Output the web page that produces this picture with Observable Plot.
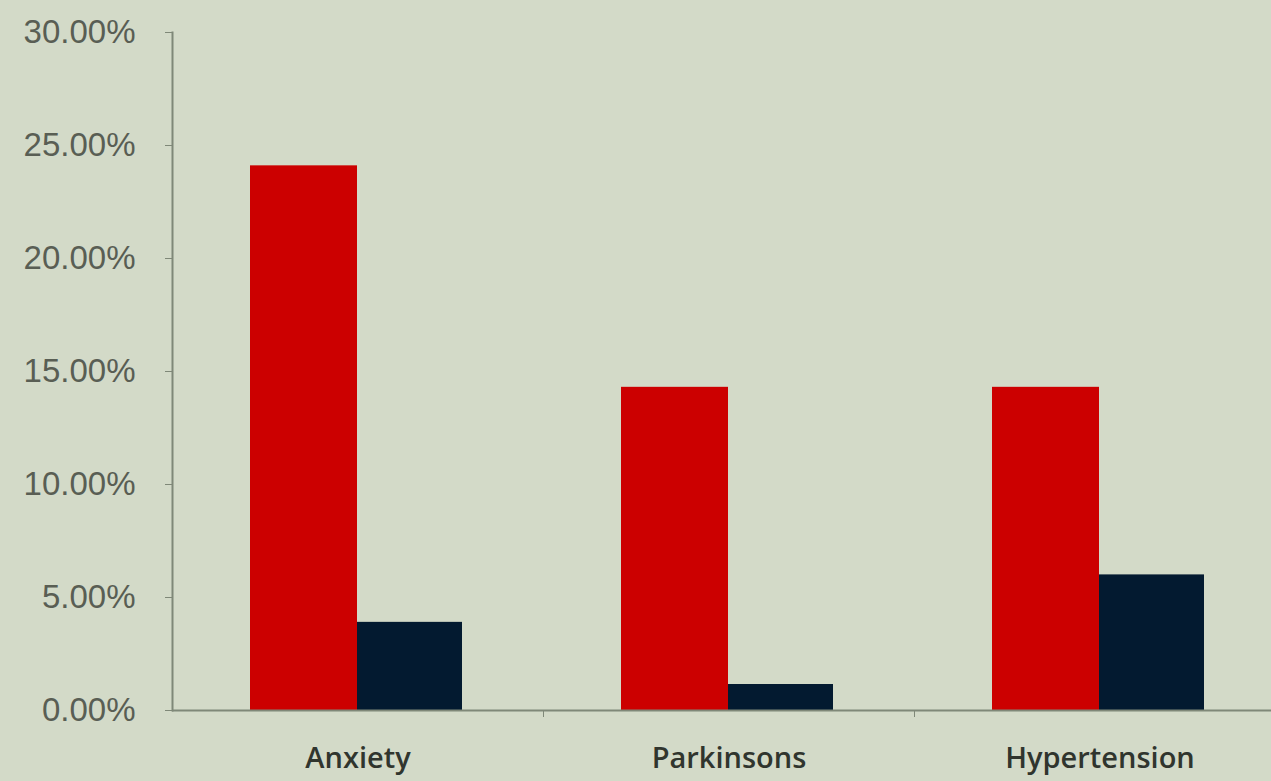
<!DOCTYPE html>
<html>
<head>
<meta charset="utf-8">
<script src="https://cdn.jsdelivr.net/npm/d3@7"></script>
<script src="https://cdn.jsdelivr.net/npm/@observablehq/plot@0.6"></script>
<style>
  html, body { margin: 0; padding: 0; background: #d3dac8; overflow: hidden; }
  #chart svg { display: block; }
</style>
</head>
<body>
<div id="chart"></div>
<script>
// Conditions compared across two groups (share of each group, as a fraction)
const categories = ["Anxiety", "Parkinsons", "Hypertension"];
const seriesNames = ["Group A", "Group B"];
const groupA = [0.241, 0.143, 0.143];
const groupB = [0.039, 0.0115, 0.06];
const yTicks = [0, 0.05, 0.10, 0.15, 0.20, 0.25, 0.30];

const colors = {"Group A": "#cc0000", "Group B": "#031a30"};

const rows = categories.flatMap((c, i) => [
  {category: c, series: seriesNames[0], value: groupA[i]},
  {category: c, series: seriesNames[1], value: groupB[i]}
]);

const chartWidth = 1271, chartHeight = 781;
const padLeft = 172, padTop = 32, padBottom = 71;
const band = 371; // width of one category slot
const halfBand = band / 2;

const chart = Plot.plot({
  width: chartWidth,
  height: chartHeight,
  marginLeft: padLeft,
  marginRight: 0,
  marginTop: padTop,
  marginBottom: padBottom,
  style: {background: "#d3dac8", overflow: "visible"},
  x: {domain: categories, range: [padLeft, padLeft + band * categories.length], padding: 0},
  y: {domain: [0, 0.30]},
  color: {domain: seriesNames, range: seriesNames.map(s => colors[s])},
  marks: [
    // side-by-side bars inside each category slot
    Plot.barY(rows.filter(d => d.series === seriesNames[0]), {
      x: "category", y: "value", fill: "series",
      insetLeft: 78, insetRight: 186
    }),
    Plot.barY(rows.filter(d => d.series === seriesNames[1]), {
      x: "category", y: "value", fill: "series",
      insetLeft: 185, insetRight: 81
    }),
    // value axis
    Plot.frame({anchor: "left", stroke: "#7f8878", strokeWidth: 2}),
    Plot.axisY(yTicks, {
      tickSize: 7, tickPadding: 30, stroke: "#7f8878",
      tickFormat: d3.format(".2%"),
      fontSize: 33, fontFamily: "Liberation Sans", fill: "#595e54",
      style: {letterSpacing: "-0.5px"},
      label: null
    }),
    // baseline
    Plot.ruleY([0], {stroke: "#7f8878", strokeWidth: 2}),
    // category separators on the baseline
    Plot.axisX(categories.slice(1), {
      tickSize: 7, dx: -halfBand, stroke: "#7f8878",
      tickFormat: () => "", label: null
    }),
    // category names
    Plot.axisX(categories, {
      tickSize: 0, tickPadding: 37,
      fontSize: 29, fontFamily: "Open Sans", fontWeight: 600, fill: "#30352e",
      label: null
    })
  ]
});

document.getElementById("chart").appendChild(chart);
</script>
</body>
</html>
